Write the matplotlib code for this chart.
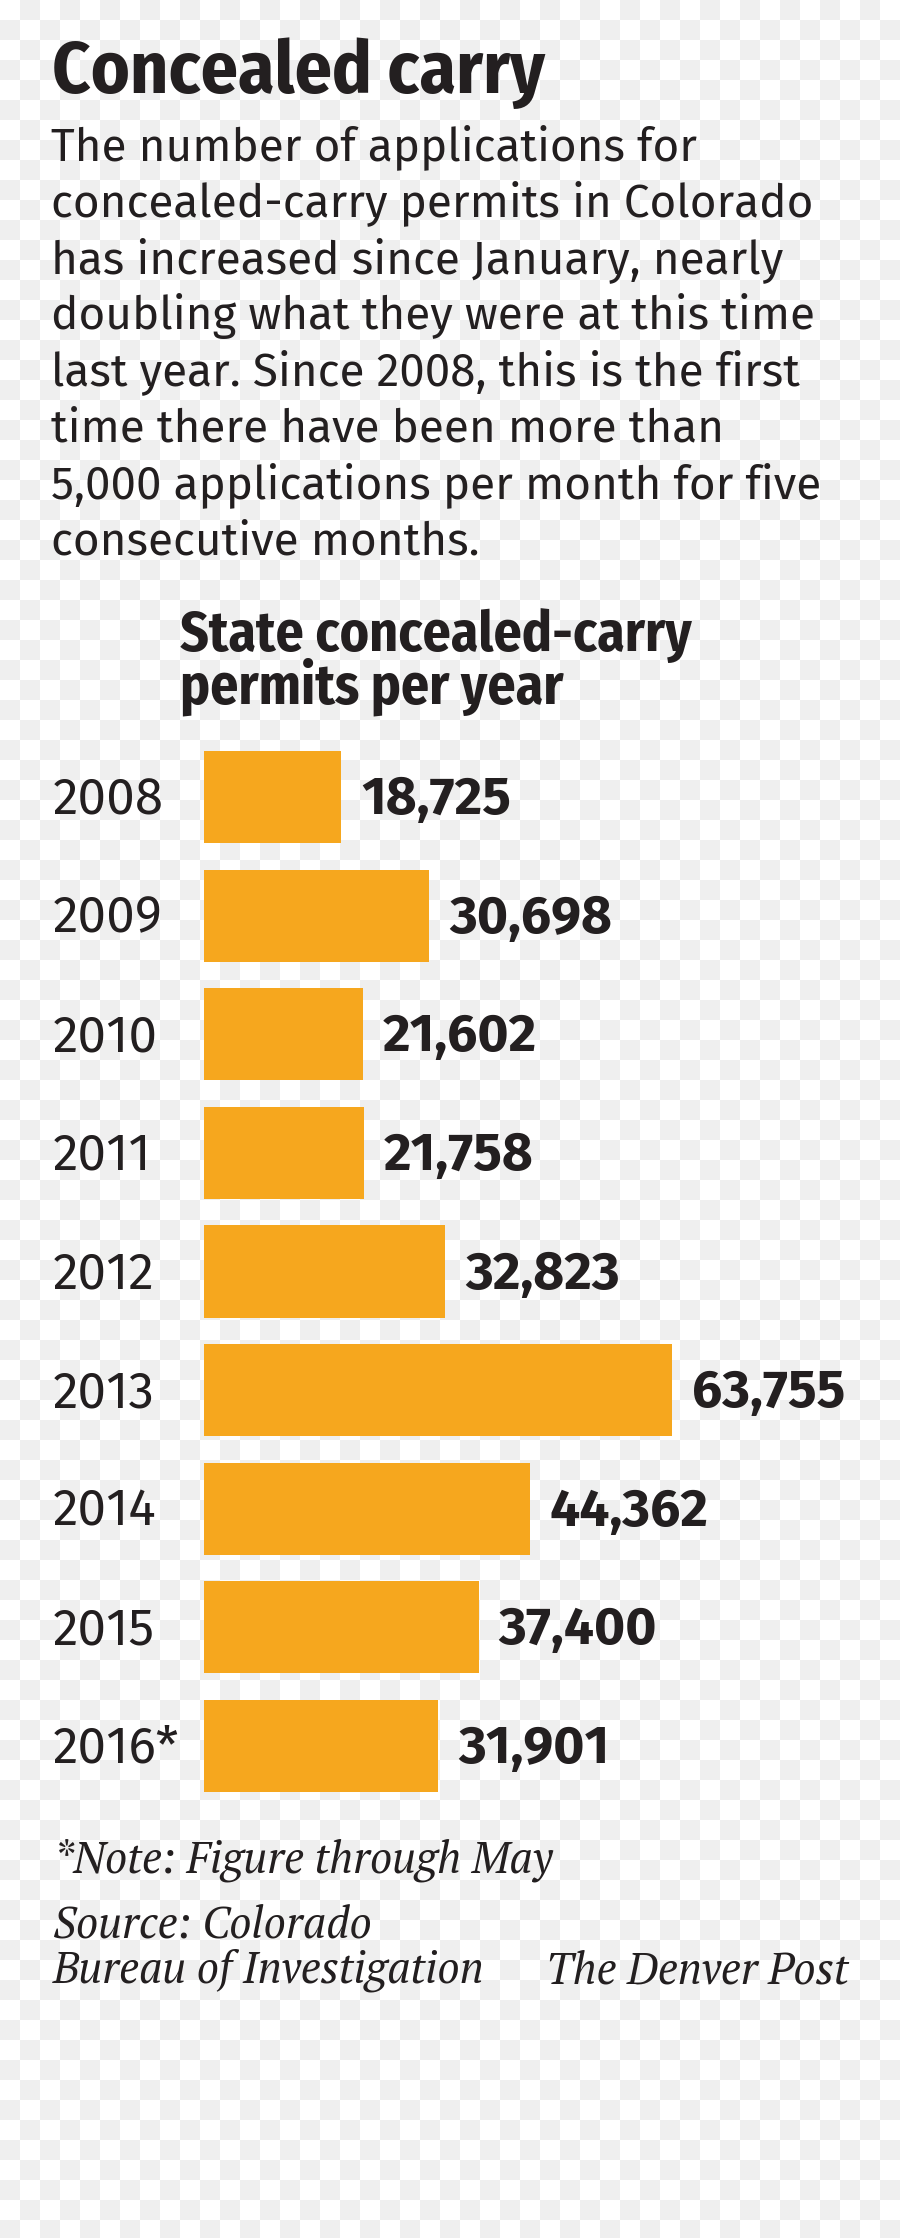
import numpy as np
import matplotlib
matplotlib.use("Agg")
import matplotlib.pyplot as plt

years = ["2008", "2009", "2010", "2011", "2012", "2013", "2014", "2015", "2016*"]
permits = [18725, 30698, 21602, 21758, 32823, 63755, 44362, 37400, 31901]

title = "Concealed carry"
intro = ["The number of applications for",
         "concealed-carry permits in Colorado",
         "has increased since January, nearly",
         "doubling what they were at this time",
         "last year. Since 2008, this is the first",
         "time there have been more than",
         "5,000 applications per month for five",
         "consecutive months."]
chart_title = ["State concealed-carry", "permits per year"]
note = "*Note: Figure through May"
source = ["Source: Colorado", "Bureau of Investigation"]
credit = "The Denver Post"

COND = ["Fira Sans Condensed", "Roboto Condensed", "Liberation Sans Narrow", "DejaVu Sans"]
SANS = ["Fira Sans", "Roboto", "Liberation Sans", "DejaVu Sans"]
SERIF = ["PT Serif", "Liberation Serif", "DejaVu Serif"]
INK = "#231f20"
BAR = "#f6a71e"

W, H = 900, 2238
fig = plt.figure(figsize=(W / 100, H / 100), dpi=100)


def fy(px):
    return 1 - px / H


# transparent-look checkerboard background
bg = fig.add_axes([0, 0, 1, 1], zorder=-1)
cells = (np.indices((H // 20 + 1, W // 20)).sum(axis=0) % 2)
bg.imshow(cells, cmap=matplotlib.colors.ListedColormap(["#ffffff", "#efefef"]),
          extent=(0, W, (H // 20 + 1) * 20, 0), interpolation="nearest", aspect="auto")
bg.set_xlim(0, W)
bg.set_ylim(H, 0)
bg.axis("off")

fig.text(52 / W, fy(93), title, family=COND, weight="bold", fontsize=53, color=INK)
for i, line in enumerate(intro):
    fig.text(51 / W, fy(160 + 56.4 * i), line, family=SANS, fontsize=33, color=INK)
# two-line chart heading; baseline of the last line sits at 703px
fig.text(180 / W, fy(703), "\n".join(chart_title), family=COND, weight="bold", fontsize=40,
         color=INK, va="baseline", linespacing=0.85)

# bar chart: 0 sits at x=204px, 1 permit = 0.00734 px
top, bottom = 737.7, 1805.3
ax = fig.add_axes([204 / W, fy(bottom), 676 / W, (bottom - top) / H])
ypos = np.arange(len(years))
ax.barh(ypos, permits, height=0.776, color=BAR)
ax.set_xlim(0, 676 / 0.0073406)
ax.set_ylim(len(years) - 0.5, -0.5)
ax.axis("off")

for i, (yr, v) in enumerate(zip(years, permits)):
    ax.annotate(yr, xy=(0, i), xytext=(-151 * 0.72, -17 * 0.72), textcoords="offset points",
                ha="left", va="baseline", family=SANS, fontsize=37, color=INK)
    ax.annotate(f"{v:,}", xy=(v, i), xytext=(20 * 0.72, -17 * 0.72), textcoords="offset points",
                ha="left", va="baseline", family=SANS, weight="bold", fontsize=38.5, color=INK)

fig.text(53 / W, fy(1873), note, family=SERIF, style="italic", fontsize=31.5, color=INK)
fig.text(53 / W, fy(1937), source[0], family=SERIF, style="italic", fontsize=31.5, color=INK)
fig.text(53 / W, fy(1983), source[1], family=SERIF, style="italic", fontsize=31.5, color=INK)
fig.text(849 / W, fy(1983), credit, family=SERIF, style="italic", fontsize=31.5, color=INK, ha="right")

fig.savefig("out.png", dpi=100)
